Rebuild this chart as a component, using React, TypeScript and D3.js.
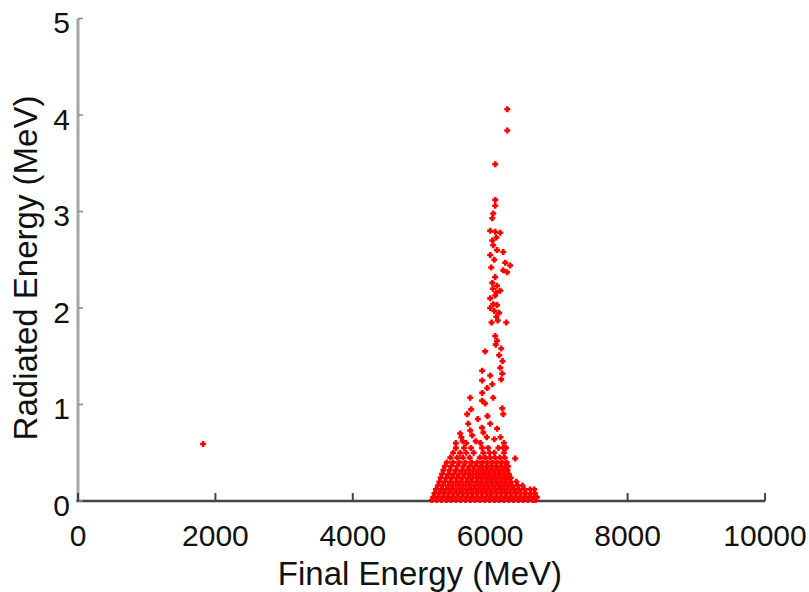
import React from "react";
import * as d3 from "d3";

// Final energy (MeV) vs radiated energy (MeV)
const outliers: [number, number][] = [
  [1821, 0.59], [6249, 4.06], [6249, 3.84], [6074, 3.49],
];

const upperColumn: [number, number][] = [
  [6073, 3.12], [6073, 3.06], [6044, 2.98], [6030, 2.93], [6000, 2.8], [6073, 2.79],
  [6146, 2.78], [6030, 2.7], [6090, 2.73], [6044, 2.65], [6100, 2.6], [6190, 2.58],
  [6000, 2.55], [6060, 2.5], [6219, 2.47], [6290, 2.44], [6190, 2.39], [6248, 2.37],
  [6015, 2.42], [6073, 2.32], [6030, 2.26], [6100, 2.23], [6146, 2.18], [6073, 2.13],
  [6000, 2.1], [6090, 2.16], [6044, 2.04], [6100, 2.03], [6060, 1.97], [6130, 1.95],
  [6090, 1.91], [6020, 1.85], [6110, 1.87], [6040, 2.2], [6000, 2.0],
];

const midScatter: [number, number][] = [
  [6364, 0.44], [6150, 0.66], [6200, 0.6], [6230, 0.55], [6000, 0.8], [5880, 0.76],
  [5900, 0.71], [5665, 0.9], [5680, 0.8], [5710, 0.73], [5563, 0.7], [5738, 0.68],
  [5709, 1.07], [5723, 0.95], [6175, 0.96], [6190, 0.9], [5883, 1.35], [6000, 1.3],
  [5883, 1.25], [6030, 1.21], [5956, 1.17], [5883, 1.12], [6044, 1.07], [5883, 1.04],
  [5927, 1.01], [6146, 1.38], [6175, 1.32], [6160, 1.26], [6100, 1.66], [6160, 1.58],
  [6130, 1.51], [6180, 1.45], [6073, 1.71], [6080, 1.62], [5927, 1.55], [6234, 1.85],
  [5600, 0.62], [5790, 0.62], [6060, 0.64], [5960, 0.88], [5820, 0.85], [6100, 0.75],
  [5500, 0.6], [5580, 0.66], [5650, 0.6], [5860, 0.6], [5950, 0.66],
];

// dense base: one list of final energies per radiated-energy level
const baseLevels = [0.01, 0.04, 0.08, 0.12, 0.16, 0.2, 0.24, 0.28, 0.32, 0.36, 0.4, 0.45, 0.5, 0.55];
const baseRows = [
  [5150, 5220, 5290, 5360, 5430, 5500, 5570, 5640, 5710, 5780, 5850, 5920, 5990, 6060, 6130, 6200, 6270, 6340, 6410, 6480, 6550, 6620, 6660],
  [5170, 5240, 5310, 5380, 5450, 5520, 5590, 5660, 5730, 5800, 5870, 5940, 6010, 6080, 6150, 6220, 6290, 6360, 6430, 6500, 6570, 6640, 6680],
  [5190, 5260, 5330, 5400, 5470, 5540, 5610, 5680, 5750, 5820, 5890, 5960, 6030, 6100, 6170, 6240, 6310, 6380, 6450, 6520, 6590, 6650],
  [5210, 5290, 5360, 5430, 5500, 5580, 5650, 5720, 5790, 5860, 5930, 6000, 6070, 6140, 6210, 6280, 6350, 6420, 6500, 6580, 6640],
  [5240, 5310, 5390, 5460, 5540, 5610, 5690, 5760, 5830, 5900, 5970, 6040, 6110, 6180, 6250, 6320, 6400, 6470],
  [5260, 5340, 5420, 5500, 5570, 5650, 5720, 5800, 5870, 5940, 6010, 6080, 6150, 6220, 6290, 6380],
  [5280, 5360, 5440, 5520, 5600, 5680, 5750, 5830, 5900, 5970, 6040, 6110, 6180, 6250, 6300],
  [5300, 5390, 5470, 5550, 5630, 5710, 5790, 5860, 5930, 6000, 6070, 6140, 6210, 6270],
  [5320, 5410, 5500, 5590, 5670, 5750, 5830, 5900, 5970, 6040, 6110, 6180, 6250],
  [5340, 5430, 5520, 5610, 5700, 5780, 5860, 5940, 6010, 6080, 6150, 6220, 6260],
  [5370, 5460, 5550, 5640, 5730, 5810, 5890, 5960, 6030, 6100, 6170, 6240],
  [5420, 5520, 5600, 5700, 5850, 5930, 6000, 6070, 6140, 6210],
  [5460, 5560, 5650, 5760, 5900, 5990, 6060, 6200],
  [5500, 5620, 5720, 5880, 5970, 6120, 6190],
];

const xTicks = [0, 2000, 4000, 6000, 8000, 10000];
const yTicks = [0, 1, 2, 3, 4, 5];

const W = 809;
const H = 592;
const font = "'Liberation Sans', Arial, Helvetica, sans-serif";

export default function App() {
  const x = d3.scaleLinear().domain([0, 10000]).range([78, 765]);
  const y = d3.scaleLinear().domain([0, 5]).range([501, 18.5]);

  const basePoints: [number, number][] = [];
  baseRows.forEach((row, i) => row.forEach((v) => basePoints.push([v, baseLevels[i]])));
  const points = [...basePoints, ...midScatter, ...upperColumn, ...outliers];

  const plus = "M-3,0H3M0,-3V3";

  return (
    <svg
      width={W}
      height={H}
      style={{ position: "absolute", left: 0, top: 0, background: "#fff" }}
    >
      {/* axes */}
      <line x1={x(0)} x2={x(0)} y1={y(5)} y2={y(0)} stroke="#a8a8a8" strokeWidth={3} />
      <line x1={x(0) - 1.5} x2={x(10000)} y1={y(0)} y2={y(0)} stroke="#444" strokeWidth={2.5} />
      {yTicks.map((t) => (
        <g key={"y" + t}>
          <line x1={x(0)} x2={x(0) + 5} y1={y(t)} y2={y(t)} stroke="#888" strokeWidth={1.5} />
          <text
            x={70}
            y={y(t) + 4}
            textAnchor="end"
            dominantBaseline="central"
            fontFamily={font}
            fontSize={30}
            fill="#111"
          >
            {t}
          </text>
        </g>
      ))}
      {xTicks.map((t) => (
        <g key={"x" + t}>
          <line x1={x(t)} x2={x(t)} y1={y(0)} y2={y(0) - 8} stroke="#444" strokeWidth={2} />
          <text
            x={x(t)}
            y={546}
            textAnchor="middle"
            fontFamily={font}
            fontSize={30}
            fill="#111"
          >
            {t}
          </text>
        </g>
      ))}

      {/* markers */}
      <g stroke="#ff0000" strokeWidth={2.6} fill="none">
        {points.map((p, i) => (
          <path key={i} d={plus} transform={`translate(${x(p[0])},${y(p[1])})`} />
        ))}
      </g>

      {/* labels */}
      <text
        x={420}
        y={585}
        textAnchor="middle"
        fontFamily={font}
        fontSize={33}
        fill="#111"
      >
        Final Energy (MeV)
      </text>
      <text
        transform={`translate(37,268) rotate(-90)`}
        textAnchor="middle"
        fontFamily={font}
        fontSize={33}
        fill="#111"
      >
        Radiated Energy (MeV)
      </text>
    </svg>
  );
}
